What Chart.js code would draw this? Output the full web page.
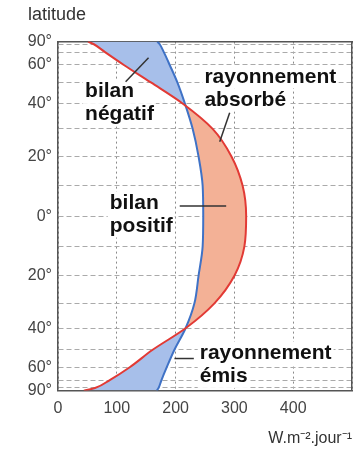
<!DOCTYPE html>
<html>
<head>
<meta charset="utf-8">
<script src="https://cdn.jsdelivr.net/npm/chart.js@4.4.0/dist/chart.umd.min.js"></script>
<style>
  html, body { margin: 0; padding: 0; background: #fff; }
  #wrap { width: 360px; height: 455px; }
</style>
</head>
<body>
<div id="wrap"><canvas id="bilan-chart"></canvas></div>
<script>
// latitude (north positive), every 10 degrees
const latitudes = [90, 80, 70, 60, 50, 40, 30, 20, 10, 0, -10, -20, -30, -40, -50, -60, -70, -80, -90];
// W.m-2.jour-1
const absorbed = [51, 61, 80, 112, 158, 213, 263, 295, 314, 320, 317, 300, 266, 217, 161, 122, 88, 63, 44];
const emitted  = [169, 173, 180, 190, 203, 216, 229, 239, 246, 247, 246, 239, 232, 217, 198, 185, 176, 171, 168];
const latLabels = [90, 60, 40, 20, 0];
const xTickLabels = [0, 100, 200, 300, 400];

const red = '#e23a35';
const blue = '#3f72c6';
const blueFill = '#a7bfea';
const orangeFill = '#f3b196';
const font = "'Liberation Sans', Arial, sans-serif";

// sine-of-latitude axis (equal area)
class SineScale extends Chart.LinearScale {
  static id = 'sine';
  getPixelForValue(value) {
    const s = Math.sin(value * Math.PI / 180);
    return this.getPixelForDecimal((s + 1) / 2);
  }
  getValueForPixel(pixel) {
    return Math.asin(this.getDecimalForPixel(pixel) * 2 - 1) * 180 / Math.PI;
  }
}
Chart.register(SineScale);

function pts(values, from, to) {
  const out = [];
  for (let i = from; i <= to; i++) out.push({x: values[i], y: latitudes[i]});
  return out;
}

// text notes: x in W.m-2, lat in degrees
const notes = [
  {lines: ['bilan', 'négatif'], x: 46, lat: 45.5, lead: [[115, 50.4], [154, 65.2]]},
  {lines: ['rayonnement', 'absorbé'], x: 249, lat: 53, lead: [[292, 36.3], [275, 25.2]]},
  {lines: ['bilan', 'positif'], x: 88, lat: 4.3, lead: [[207, 3.3], [286, 3.3]]},
  {lines: ['rayonnement', 'émis'], x: 241, lat: -51.9, lead: [[198, -54.7], [231, -54.7]]}
];
const noteFont = "bold 21px " + font;
const noteLine = 23;

const notesPlugin = {
  id: 'notes',
  beforeDatasetsDraw(chart) {
    const {ctx, scales: {x, y}} = chart;
    ctx.save();
    ctx.font = noteFont;
    ctx.fillStyle = '#fff';
    notes.forEach(n => {
      const left = x.getPixelForValue(n.x);
      const top = y.getPixelForValue(n.lat);
      n.lines.forEach((t, i) => {
        const w = ctx.measureText(t).width;
        ctx.fillRect(left - 2, top + i * noteLine - noteLine / 2, w + 4, noteLine);
      });
    });
    ctx.restore();
  },
  afterDatasetsDraw(chart) {
    const {ctx, scales: {x, y}} = chart;
    ctx.save();
    ctx.font = noteFont;
    ctx.fillStyle = '#111';
    ctx.textBaseline = 'middle';
    ctx.textAlign = 'left';
    ctx.strokeStyle = '#333';
    ctx.lineWidth = 1.5;
    notes.forEach(n => {
      const left = x.getPixelForValue(n.x);
      const top = y.getPixelForValue(n.lat);
      n.lines.forEach((t, i) => ctx.fillText(t, left, top + i * noteLine));
      ctx.beginPath();
      ctx.moveTo(x.getPixelForValue(n.lead[0][0]), y.getPixelForValue(n.lead[0][1]));
      ctx.lineTo(x.getPixelForValue(n.lead[1][0]), y.getPixelForValue(n.lead[1][1]));
      ctx.stroke();
    });
    ctx.restore();
  }
};

const curve = {pointRadius: 0, cubicInterpolationMode: 'monotone'};
const noBorder = Object.assign({borderColor: 'rgba(0,0,0,0)', borderWidth: 0}, curve);

new Chart(document.getElementById('bilan-chart'), {
  type: 'line',
  data: {
    datasets: [
      Object.assign({label: 'rayonnement absorbé', data: pts(absorbed, 0, 18), borderColor: red, borderWidth: 2, fill: false}, curve),
      Object.assign({label: 'rayonnement émis', data: pts(emitted, 0, 18), borderColor: blue, borderWidth: 2, fill: false}, curve),
      Object.assign({label: 'bilan négatif N', data: pts(absorbed, 0, 5), fill: {target: 1}, backgroundColor: blueFill}, noBorder),
      Object.assign({label: 'bilan positif', data: pts(absorbed, 5, 13), fill: {target: 1}, backgroundColor: orangeFill}, noBorder),
      Object.assign({label: 'bilan négatif S', data: pts(absorbed, 13, 18), fill: {target: 1}, backgroundColor: blueFill}, noBorder)
    ]
  },
  options: {
    indexAxis: 'y',
    responsive: true,
    maintainAspectRatio: false,
    animation: false,
    events: [],
    layout: {padding: {left: 28, right: 7, top: 4, bottom: 7}},
    plugins: {
      legend: {display: false},
      tooltip: {enabled: false},
      title: {
        display: true,
        text: 'latitude',
        align: 'start',
        color: '#333',
        font: {family: font, size: 18, weight: 'normal'},
        padding: {top: 0, bottom: 16}
      }
    },
    scales: {
      x: {
        type: 'linear',
        min: 0,
        max: 500,
        grid: {color: '#8a8a8a', drawTicks: false},
        border: {color: '#555', width: 1.5, dash: [2, 3]},
        ticks: {
          stepSize: 100,
          padding: 8,
          color: '#444',
          font: {family: font, size: 16},
          callback: v => xTickLabels.includes(v) ? String(v) : ''
        },
        title: {
          display: true,
          text: 'W.m⁻².jour⁻¹',
          align: 'end',
          color: '#333',
          font: {family: font, size: 16},
          padding: {top: 3, bottom: 0}
        }
      },
      y: {
        type: 'sine',
        min: -90,
        max: 90,
        afterBuildTicks: scale => { scale.ticks = latitudes.map(v => ({value: v})); },
        afterFit: scale => { scale.width = 30; },
        grid: {color: '#aaa', drawTicks: false},
        border: {color: '#555', width: 1.5, dash: [5, 3]},
        ticks: {
          autoSkip: false,
          padding: 6,
          color: '#444',
          font: {family: font, size: 16},
          callback: v => latLabels.includes(Math.abs(v)) ? Math.abs(v) + '°' : ''
        }
      },
      x2: {
        type: 'linear', position: 'top', min: 0, max: 500,
        grid: {display: false, drawTicks: false},
        border: {color: '#555', width: 1.5},
        ticks: {display: false}
      },
      y2: {
        type: 'linear', position: 'right', min: -1, max: 1,
        grid: {display: false, drawTicks: false},
        border: {color: '#555', width: 1.5},
        ticks: {display: false}
      }
    }
  },
  plugins: [notesPlugin]
});
</script>
</body>
</html>
